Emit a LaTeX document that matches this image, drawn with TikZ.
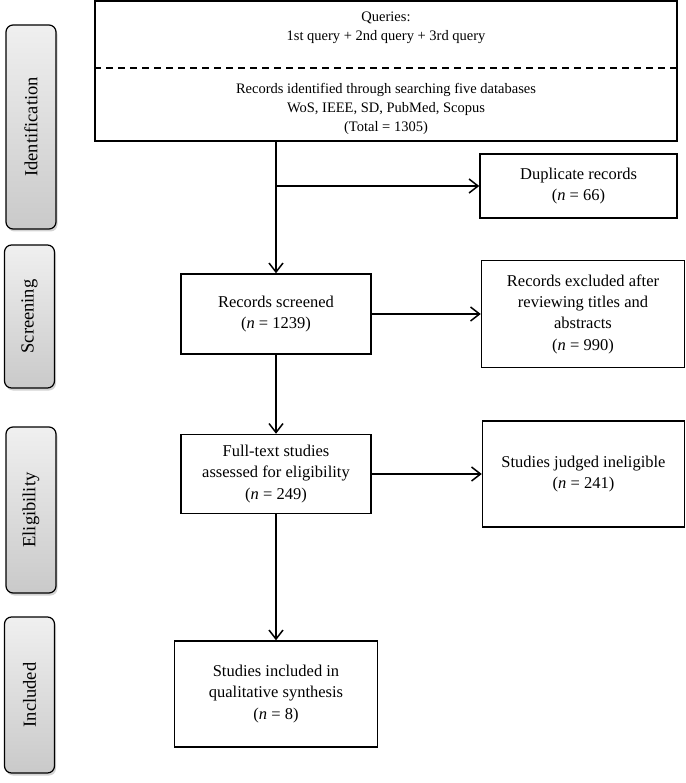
\documentclass[tikz,border=0pt]{standalone}
\usepackage{fontspec}
\setmainfont{Liberation Serif}
\usetikzlibrary{shapes,arrows.meta,calc,positioning,shadows}
\tikzset{
    block/.style = {draw, rectangle, line width=1.5pt, align=center,
        font=\fontsize{16.5}{21.3}\selectfont},
    query/.style = {align=center, font=\fontsize{14.5}{18.7}\selectfont},
    stage/.style = {draw, rectangle, rounded corners=7pt, line width=1.2pt,
        top color=gray!12, bottom color=gray!42,
        minimum width=50pt,
        drop shadow={shadow xshift=1.5pt, shadow yshift=-2.5pt, opacity=0.35},
        font=\fontsize{18.5}{20}\selectfont},
}

\begin{document}
\begin{tikzpicture}[x=1pt, y=1pt, line width=1.5pt, >={Straight Barb[length=9pt,width=14pt]}]
		\useasboundingbox (0,0) rectangle (685,-783);
		% Stages on the left
		\node [stage, minimum height=204pt] (identification) at (31,-127) {\rotatebox{90}{Identification}};
		\node [stage, minimum height=143pt] (screening) at (29.5,-316.5) {\rotatebox{90}{Screening}};
		\node [stage, minimum height=166pt] (eligibility) at (31,-510) {\rotatebox{90}{Eligibility}};
		\node [stage, minimum height=156pt] (includedstage) at (29.5,-695) {\rotatebox{90}{Included}};
		
		% Search box with queries and databases
		\node [block, minimum width=582pt, minimum height=140pt] (search) at (386,-71) {};
		\node [query] (queries) at ([yshift=-27.5pt]search.north) {Queries:\\1st query + 2nd query + 3rd query};
		\node [query] (records) at ([yshift=33pt]search.south) {Records identified through searching five databases\\WoS, IEEE, SD, PubMed, Scopus\\(Total = 1305)};
		\draw [dash pattern=on 7pt off 5pt] ([yshift=-68pt]search.north west) -- ([yshift=-68pt]search.north east);
		
		\node [block, minimum width=197pt, minimum height=64pt] (duplicate) at (578.5,-186) {Duplicate records\\(\textit{n} = 66)};
		
		\node [block, minimum width=190pt, minimum height=80pt] (screened) at (276,-314) {Records screened\\(\textit{n} = 1239)};
		\node [block, minimum width=203pt, minimum height=107pt, right=109pt of screened] (excluded) {Records excluded after\\reviewing titles and\\abstracts\\(\textit{n} = 990)};
		
		\node [block, minimum width=190pt, minimum height=79pt, below=79pt of screened] (fulltext) {Full-text studies\\assessed for eligibility\\(\textit{n} = 249)};
		\node [block, minimum width=202pt, minimum height=106pt, right=110pt of fulltext] (ineligible) {Studies judged ineligible\\(\textit{n} = 241)};
		
		\node [block, minimum width=203pt, minimum height=106pt, below=126pt of fulltext] (included) {Studies included in\\qualitative synthesis\\(\textit{n} = 8)};
		
		%% connecting lines
		\draw [->] (search.south -| screened.north) -- (screened.north);
		\draw [->] (screened.north |- duplicate.west) -- (duplicate.west);
		\draw [->] (screened) -- (excluded);
		\draw [->] (screened) -- (fulltext);
		\draw [->] (fulltext) -- (ineligible);
		\draw [->] (fulltext) -- (included);

	\end{tikzpicture}
\end{document}
